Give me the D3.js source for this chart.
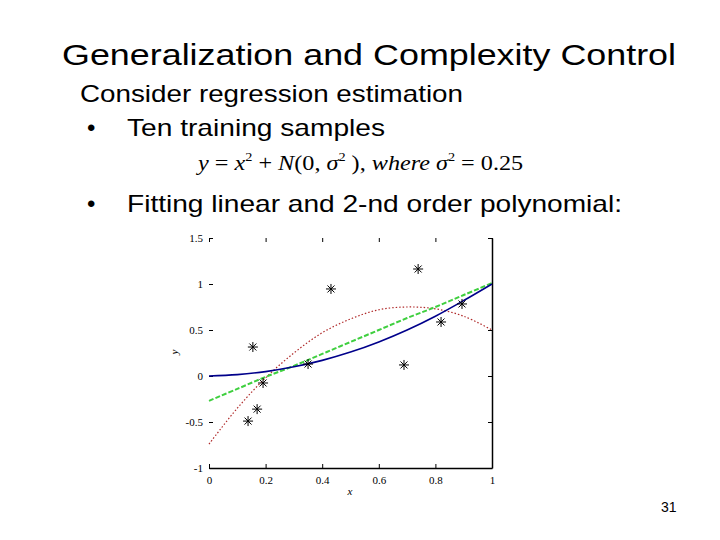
<!DOCTYPE html>
<html lang="en">
<head>
<meta charset="UTF-8">
<title>Generalization and Complexity Control</title>
<script src="https://d3js.org/d3.v7.min.js"></script>
<style>
    body { margin: 0; background: #fff; }
    .slide-text { font-family: "Liberation Sans", Arial, sans-serif; fill: #000; }
    .tick text { font-family: "Liberation Serif", "Times New Roman", serif; font-size: 11px; }
</style>
</head>
<body>
<div id="chart"></div>
<script>
// training samples
const sampleX = [0.155, 0.431, 0.739, 0.820, 0.894, 0.689, 0.350, 0.191, 0.170, 0.138];
const sampleY = [0.315, 0.946, 1.163, 0.587, 0.783, 0.120, 0.130, -0.076, -0.360, -0.490];

// fitted curves, sampled at these x positions
const curveX = [0, 0.1, 0.2, 0.3, 0.4, 0.5, 0.6, 0.7, 0.8, 0.9, 1.0];
const blueY  = [0.00, 0.015, 0.048, 0.10, 0.17, 0.26, 0.37, 0.50, 0.65, 0.82, 1.00];
const greenY = [-0.27, -0.14, -0.01, 0.11, 0.24, 0.37, 0.50, 0.63, 0.75, 0.88, 1.01];
const redY   = [-0.74, -0.35, -0.02, 0.25, 0.47, 0.62, 0.72, 0.75, 0.73, 0.65, 0.50];

const xTicks = [0, 0.2, 0.4, 0.6, 0.8, 1];
const xTickLabels = ["0", "0.2", "0.4", "0.6", "0.8", "1"];
const yTicks = [-1, -0.5, 0, 0.5, 1, 1.5];
const yTickLabels = ["-1", "-0.5", "0", "0.5", "1", "1.5"];

const W = 720, H = 540;
const svg = d3.select("#chart").append("svg")
    .attr("width", W).attr("height", H);

// slide text (the slide font is a bit wider than Arial, so stretch to fit)
const txt = (x, y, size, s, len) => {
    const t = svg.append("text").attr("class", "slide-text")
        .attr("x", x).attr("y", y).attr("font-size", size).text(s);
    if (len) t.attr("textLength", len).attr("lengthAdjust", "spacingAndGlyphs");
    return t;
};
txt(62, 65, 30, "Generalization and Complexity Control", 614);
txt(80, 102, 24, "Consider regression estimation", 383);
txt(87, 136, 24, "\u2022");
txt(127, 136, 24, "Ten training samples", 258);
txt(87, 212, 24, "\u2022");
txt(127, 212, 24, "Fitting linear and 2-nd order polynomial:", 495);
txt(661, 512, 14, "31");

// formula
const f = svg.append("text")
    .attr("transform", "translate(198,170) scale(1.1,1)")
    .attr("font-family", "'Liberation Serif', 'Times New Roman', serif")
    .attr("font-size", 22);
f.append("tspan").attr("font-style", "italic").text("y");
f.append("tspan").text(" = ");
f.append("tspan").attr("font-style", "italic").text("x");
f.append("tspan").attr("font-size", 13).attr("dy", -9).text("2");
f.append("tspan").attr("dy", 9).text(" + ");
f.append("tspan").attr("font-style", "italic").text("N");
f.append("tspan").text("(0, ");
f.append("tspan").attr("font-style", "italic").text("\u03c3");
f.append("tspan").attr("font-size", 13).attr("dy", -9).text("2");
f.append("tspan").attr("dy", 9).text(" ), ");
f.append("tspan").attr("font-style", "italic").text("where \u03c3");
f.append("tspan").attr("font-size", 13).attr("dy", -9).text("2");
f.append("tspan").attr("dy", 9).text(" = 0.25");

// plot area
const x = d3.scaleLinear().domain([0, 1]).range([209, 492]);
const y = d3.scaleLinear().domain([-1, 1.5]).range([468, 238]);

const fmtX = d => xTickLabels[xTicks.indexOf(d)];
const fmtY = d => yTickLabels[yTicks.indexOf(d)];

// bottom axis (with line), ticks pointing in
svg.append("g").attr("transform", `translate(0,${y(-1)})`)
    .call(d3.axisBottom(x).tickValues(xTicks).tickFormat(fmtX)
        .tickSizeInner(-4).tickSizeOuter(0).tickPadding(8));
// right axis (with line), no labels
svg.append("g").attr("transform", `translate(${x(1)},0)`)
    .call(d3.axisRight(y).tickValues(yTicks).tickFormat("")
        .tickSizeInner(-4).tickSizeOuter(0));
// left axis, labels only
const gl = svg.append("g").attr("transform", `translate(${x(0)},0)`)
    .call(d3.axisLeft(y).tickValues(yTicks).tickFormat(fmtY)
        .tickSizeInner(-4).tickSizeOuter(0).tickPadding(6));
gl.select(".domain").remove();
// top ticks, no line
const gt = svg.append("g").attr("transform", `translate(0,${y(1.5)})`)
    .call(d3.axisTop(x).tickValues(xTicks).tickFormat("")
        .tickSizeInner(-4).tickSizeOuter(0));
gt.select(".domain").remove();
svg.selectAll(".domain").attr("stroke-width", 1.5);

// axis titles
svg.append("text").attr("x", 350).attr("y", 495)
    .attr("font-family", "'Liberation Serif', serif").attr("font-style", "italic")
    .attr("font-size", 11).attr("text-anchor", "middle").text("x");
svg.append("text").attr("transform", "translate(178,352) rotate(-90)")
    .attr("font-family", "'Liberation Serif', serif").attr("font-style", "italic")
    .attr("font-size", 11).attr("text-anchor", "middle").text("y");

// curves
const line = ys => d3.line().curve(d3.curveCatmullRom)
    .x((d, i) => x(curveX[i])).y(d => y(d))(ys);

svg.append("path").attr("d", line(redY))
    .attr("fill", "none").attr("stroke", "#b02a2a").attr("stroke-width", 1.2)
    .attr("stroke-dasharray", "1.5,2");
svg.append("path").attr("d", line(greenY))
    .attr("fill", "none").attr("stroke", "#3fcf3f").attr("stroke-width", 2)
    .attr("stroke-dasharray", "5,2");
svg.append("path").attr("d", line(blueY))
    .attr("fill", "none").attr("stroke", "#00008b").attr("stroke-width", 1.6);

// asterisk markers
const star = r => `M${-r},0H${r}M0,${-r}V${r}M${-r*0.7},${-r*0.7}L${r*0.7},${r*0.7}M${-r*0.7},${r*0.7}L${r*0.7},${-r*0.7}`;
svg.selectAll(".pt").data(sampleX).enter().append("path")
    .attr("class", "pt")
    .attr("transform", (d, i) => `translate(${x(d)},${y(sampleY[i])})`)
    .attr("d", star(5))
    .attr("fill", "none").attr("stroke", "#000").attr("stroke-width", 1);
</script>
</body>
</html>
